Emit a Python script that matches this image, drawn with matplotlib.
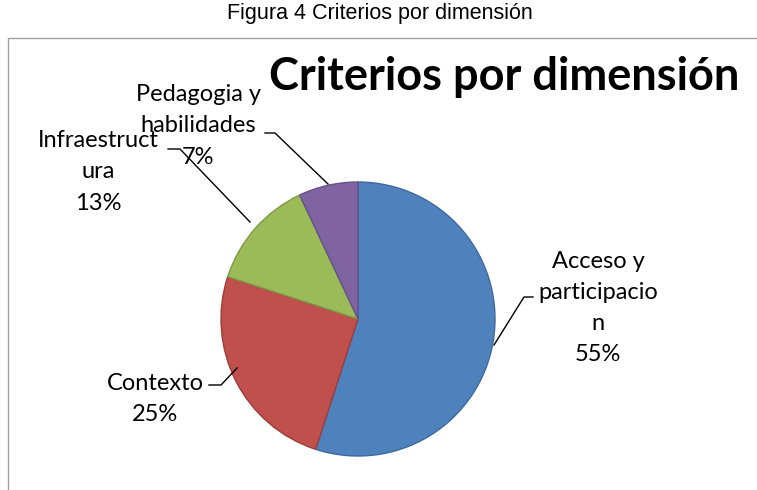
import matplotlib.pyplot as plt
from matplotlib.patches import Rectangle

# data
categories = ["Acceso y\nparticipacio\nn", "Contexto", "Infraestruct\nura", "Pedagogia y\nhabilidades"]
shares = [55, 25, 13, 7]
pct_labels = ["55%", "25%", "13%", "7%"]
colors = ["#4F81BD", "#C0504D", "#9BBB59", "#8064A2"]
edges = ["#3D6A9E", "#9E3D3A", "#7D9A45", "#64508A"]


def main() -> None:
    fig = plt.figure(figsize=(7.57, 4.90), dpi=100)
    ax = fig.add_axes([0, 0, 1, 1])
    ax.set_xlim(0, 757)
    ax.set_ylim(0, 490)
    ax.set_aspect("equal")
    ax.axis("off")

    # chart frame (left and top edge visible)
    ax.add_patch(Rectangle((8, -10), 800, 462, fill=False, ec="#A0A0A0", lw=1.0))

    fig.text(380 / 757, 1 - 13 / 490, "Figura 4 Criterios por dimensión", ha="center", va="center",
             fontsize=15.5, family="Liberation Sans")
    ax.text(504, 490 - 77, "Criterios por dimensión", ha="center", va="center",
            fontsize=32.5, fontweight="bold", family="Lato")

    wedges, _ = ax.pie(shares, colors=colors, startangle=90, counterclock=False,
                       center=(358, 490 - 319), radius=137, frame=True)
    for w, ec in zip(wedges, edges):
        w.set_edgecolor(ec)
        w.set_linewidth(1.0)
    ax.set_xlim(0, 757)
    ax.set_ylim(0, 490)
    ax.axis("off")

    # label positions (pixel layout) and leader lines
    label_pos = [(598, 308), (155, 399), (98, 172), (198, 126)]
    leaders = [
        [(494, 490 - 345), (524, 490 - 297), (533, 490 - 297)],
        [(237, 490 - 368), (221, 490 - 385), (209, 490 - 385)],
        [(250, 490 - 222), (180, 490 - 149), (168, 490 - 149)],
        [(328, 490 - 184), (275, 490 - 133), (265, 490 - 133)],
    ]
    for cat, pct, (x, y), pts in zip(categories, pct_labels, label_pos, leaders):
        ax.text(x, 490 - y, cat + "\n" + pct, ha="center", va="center",
                fontsize=17, family="Lato", linespacing=1.6)
        xs = [p[0] for p in pts]
        ys = [p[1] for p in pts]
        ax.plot(xs, ys, color="black", lw=1.0)

    fig.savefig("out.png", dpi=100)


if __name__ == "__main__":
    main()
